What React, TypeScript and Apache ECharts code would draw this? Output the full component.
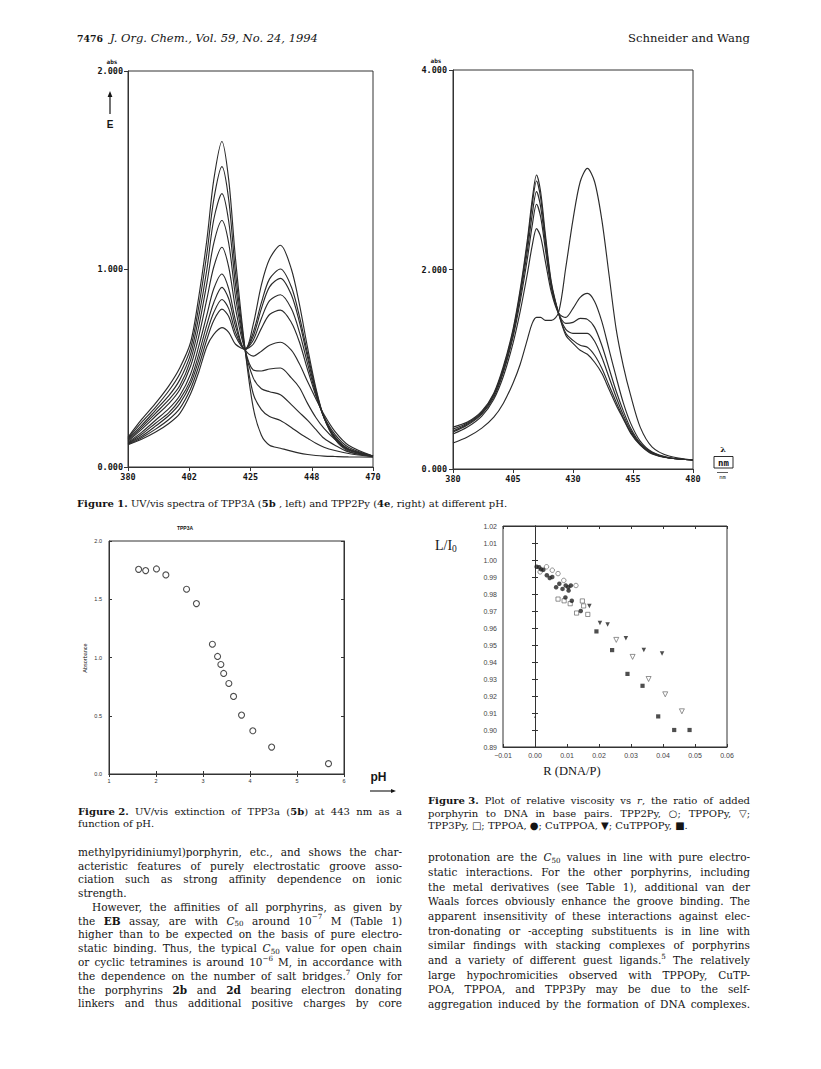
import React, { useEffect, useRef } from "react";
import * as echarts from "echarts";

// ---------------- Figure 1 (left): TPP3A spectra ----------------
const tpp3aNm = [380, 385, 390, 395, 399, 403, 406, 409, 411.5, 414.5, 417, 419.5, 423, 426, 429, 432, 436, 440, 443, 446, 449, 452, 456, 461, 470];
const tpp3aA1 = [0.15, 0.24, 0.32, 0.41, 0.5, 0.63, 0.86, 1.15, 1.45, 1.644, 1.45, 1.05, 0.594, 0.3, 0.16, 0.11, 0.095, 0.08, 0.07, 0.063, 0.058, 0.055, 0.053, 0.051, 0.05];
const tpp3aA2 = [0.145, 0.225, 0.3, 0.385, 0.47, 0.6, 0.81, 1.08, 1.35, 1.517, 1.35, 0.98, 0.594, 0.37, 0.29, 0.255, 0.235, 0.2, 0.17, 0.145, 0.12, 0.1, 0.083, 0.068, 0.052];
const tpp3aA3 = [0.14, 0.21, 0.285, 0.36, 0.44, 0.57, 0.76, 1.0, 1.25, 1.381, 1.24, 0.92, 0.594, 0.45, 0.395, 0.38, 0.365, 0.315, 0.275, 0.235, 0.19, 0.145, 0.11, 0.076, 0.053];
const tpp3aA4 = [0.135, 0.2, 0.27, 0.34, 0.41, 0.54, 0.71, 0.93, 1.13, 1.245, 1.13, 0.86, 0.594, 0.49, 0.485, 0.495, 0.5, 0.45, 0.4, 0.32, 0.25, 0.195, 0.14, 0.09, 0.054];
const tpp3aA5 = [0.13, 0.19, 0.255, 0.32, 0.39, 0.51, 0.66, 0.85, 1.01, 1.11, 1.01, 0.8, 0.594, 0.56, 0.585, 0.615, 0.63, 0.59, 0.52, 0.43, 0.345, 0.265, 0.18, 0.11, 0.055];
const tpp3aA6 = [0.125, 0.175, 0.235, 0.295, 0.36, 0.47, 0.61, 0.77, 0.9, 0.975, 0.9, 0.74, 0.594, 0.62, 0.7, 0.77, 0.792, 0.73, 0.63, 0.49, 0.36, 0.255, 0.165, 0.1, 0.055];
const tpp3aA7 = [0.12, 0.165, 0.22, 0.275, 0.34, 0.44, 0.57, 0.72, 0.83, 0.907, 0.85, 0.71, 0.594, 0.64, 0.75, 0.84, 0.87, 0.8, 0.68, 0.52, 0.37, 0.25, 0.155, 0.092, 0.055];
const tpp3aA8 = [0.118, 0.155, 0.205, 0.26, 0.32, 0.42, 0.54, 0.68, 0.78, 0.846, 0.8, 0.68, 0.594, 0.66, 0.8, 0.91, 0.953, 0.87, 0.73, 0.55, 0.38, 0.25, 0.15, 0.088, 0.055];
const tpp3aA9 = [0.115, 0.148, 0.19, 0.24, 0.295, 0.395, 0.51, 0.645, 0.74, 0.797, 0.76, 0.66, 0.594, 0.68, 0.83, 0.95, 1.0, 0.91, 0.76, 0.57, 0.39, 0.25, 0.145, 0.085, 0.055];
const tpp3aA10 = [0.112, 0.14, 0.175, 0.22, 0.27, 0.37, 0.48, 0.61, 0.67, 0.704, 0.68, 0.62, 0.594, 0.72, 0.92, 1.05, 1.12, 1.0, 0.82, 0.6, 0.4, 0.25, 0.14, 0.08, 0.055];
const tpp3aCurves = [tpp3aA1, tpp3aA2, tpp3aA3, tpp3aA4, tpp3aA5, tpp3aA6, tpp3aA7, tpp3aA8, tpp3aA9, tpp3aA10];
const fig1LeftTicks = [380, 402.5, 425, 447.5, 470];
const fig1LeftTickLabels = ["380", "402", "425", "448", "470"];

// ---------------- Figure 1 (right): TPP2Py spectra ----------------
const tpp2pyNm = [380, 386, 392, 397, 401, 405, 408, 411, 413, 414.8, 416.5, 418.5, 421, 424, 427, 430, 433, 436, 439, 442, 445, 448, 451, 454, 458, 463, 470, 480];
const tpp2pyA1 = [0.42, 0.47, 0.58, 0.76, 1.03, 1.4, 1.8, 2.3, 2.7, 2.947, 2.78, 2.35, 1.87, 1.56, 1.34, 1.26, 1.19, 1.15, 1.07, 0.96, 0.8, 0.64, 0.5, 0.36, 0.24, 0.15, 0.11, 0.09];
const tpp2pyA2 = [0.4, 0.46, 0.57, 0.75, 1.01, 1.38, 1.77, 2.26, 2.65, 2.887, 2.72, 2.31, 1.85, 1.56, 1.36, 1.29, 1.24, 1.22, 1.14, 1.01, 0.84, 0.67, 0.51, 0.37, 0.245, 0.155, 0.11, 0.09];
const tpp2pyA3 = [0.38, 0.45, 0.56, 0.74, 0.99, 1.35, 1.73, 2.19, 2.55, 2.78, 2.63, 2.26, 1.83, 1.56, 1.4, 1.36, 1.36, 1.36, 1.28, 1.12, 0.92, 0.72, 0.54, 0.39, 0.25, 0.16, 0.11, 0.09];
const tpp2pyA4 = [0.37, 0.44, 0.55, 0.72, 0.97, 1.32, 1.68, 2.11, 2.44, 2.654, 2.53, 2.2, 1.81, 1.56, 1.46, 1.47, 1.51, 1.5, 1.42, 1.24, 1.01, 0.78, 0.58, 0.41, 0.26, 0.165, 0.11, 0.09];
const tpp2pyA5 = [0.35, 0.42, 0.53, 0.7, 0.93, 1.26, 1.58, 1.96, 2.24, 2.41, 2.33, 2.08, 1.77, 1.56, 1.52, 1.61, 1.72, 1.76, 1.68, 1.48, 1.2, 0.92, 0.66, 0.46, 0.28, 0.17, 0.115, 0.09];
const tpp2pyA6 = [0.26, 0.32, 0.41, 0.52, 0.66, 0.86, 1.05, 1.3, 1.46, 1.52, 1.52, 1.49, 1.49, 1.57, 2.02, 2.5, 2.88, 3.014, 2.88, 2.5, 1.95, 1.4, 1.03, 0.74, 0.42, 0.22, 0.13, 0.09];
const tpp2pyCurves = [tpp2pyA1, tpp2pyA2, tpp2pyA3, tpp2pyA4, tpp2pyA5, tpp2pyA6];
const fig1RightTicks = [380, 405, 430, 455, 480];

// ---------------- Figure 2: extinction at 443 nm vs pH ----------------
const fig2Ph = [1.63, 1.78, 2.01, 2.21, 2.65, 2.86, 3.2, 3.31, 3.38, 3.44, 3.55, 3.65, 3.82, 4.06, 4.46, 5.67];
const fig2Abs = [1.757, 1.746, 1.76, 1.709, 1.586, 1.463, 1.114, 1.009, 0.94, 0.863, 0.777, 0.666, 0.506, 0.371, 0.231, 0.089];

// ---------------- Figure 3: relative viscosity vs r ----------------
const tpp2pyR = [0.0016, 0.0036, 0.0054, 0.0072, 0.009, 0.0128];
const tpp2pyL = [0.993, 0.996, 0.994, 0.992, 0.988, 0.985];
const tppopyR = [0.0254, 0.0305, 0.0355, 0.0407, 0.0459];
const tppopyL = [0.953, 0.943, 0.93, 0.921, 0.911];
const tpp3pyR = [0.0072, 0.0091, 0.011, 0.013, 0.0148, 0.0152, 0.0165];
const tpp3pyL = [0.977, 0.976, 0.9743, 0.9688, 0.9759, 0.973, 0.968];
const tppoaR = [0.0005, 0.0013, 0.0019, 0.0026, 0.0037, 0.0046, 0.0054, 0.0066, 0.0076, 0.0086, 0.0096, 0.0104, 0.0105, 0.0112, 0.0095, 0.0115, 0.0143];
const tppoaL = [0.996, 0.9957, 0.9945, 0.9943, 0.991, 0.9894, 0.99, 0.984, 0.986, 0.983, 0.985, 0.984, 0.982, 0.985, 0.978, 0.976, 0.97];
const cutppoaR = [0.017, 0.0203, 0.0227, 0.0284, 0.034, 0.0397];
const cutppoaL = [0.973, 0.963, 0.962, 0.954, 0.947, 0.945];
const cutppopyR = [0.0192, 0.0241, 0.0289, 0.0336, 0.0385, 0.0435, 0.0483];
const cutppopyL = [0.958, 0.947, 0.933, 0.926, 0.908, 0.9, 0.9];
const strayR = [0.0];
const strayL = [0.9076];

// ---------------- Page text ----------------
const fig1Caption = "{b|Figure~1.} UV/vis spectra of TPP3A ({b|5b} , left) and TPP2Py ({b|4e}, right) at different pH.";
const fig2Caption = ["{b|Figure~2.} UV/vis extinction of TPP3a ({b|5b}) at 443 nm as a", "function of pH."];
const fig3Caption = [
  "{b|Figure~3.} Plot of relative viscosity vs {i|r}, the ratio of added",
  "porphyrin to DNA in base pairs. TPP2Py, ○; TPPOPy, ▽;",
  "TPP3Py, □; TPPOA, ●; CuTPPOA, ▼; CuTPPOPy, ■.",
];
const leftColumn = [
  "methylpyridiniumyl)porphyrin, etc., and shows the char-",
  "acteristic features of purely electrostatic groove asso-",
  "ciation such as strong affinity dependence on ionic",
  "strength.",
  "However, the affinities of all porphyrins, as given by",
  "the {b|EB} assay, are with {i|C}{sub|50} around 10{sup|−7} M (Table 1)",
  "higher than to be expected on the basis of pure electro-",
  "static binding. Thus, the typical {i|C}{sub|50} value for open chain",
  "or cyclic tetramines is around 10{sup|−6} M, in accordance with",
  "the dependence on the number of salt bridges.{sup|7} Only for",
  "the porphyrins {b|2b} and {b|2d} bearing electron donating",
  "linkers and thus additional positive charges by core",
];
const leftColumnY = [851.7, 865.5, 879.3, 893, 906.8, 920.6, 934.4, 948.2, 962, 975.8, 989.6, 1003.4];
const rightColumn = [
  "protonation are the {i|C}{sub|50} values in line with pure electro-",
  "static interactions. For the other porphyrins, including",
  "the metal derivatives (see Table 1), additional van der",
  "Waals forces obviously enhance the groove binding. The",
  "apparent insensitivity of these interactions against elec-",
  "tron-donating or -accepting substituents is in line with",
  "similar findings with stacking complexes of porphyrins",
  "and a variety of different guest ligands.{sup|5} The relatively",
  "large hypochromicities observed with TPPOPy, CuTP-",
  "POA, TPPOA, and TPP3Py may be due to the self-",
  "aggregation induced by the formation of DNA complexes.",
];
const rightColumnY = [857.3, 872, 886.6, 901.3, 916, 930.6, 945.3, 960, 974.6, 989.3, 1004];

const SERIF = "DejaVu Serif";
const MONO = "DejaVu Sans Mono";
const SANS = "Liberation Sans";
const INK = "#151515";
const LINE = "#2b2b2b";

type Seg = { k: string; t: string };
function parseMarkup(markup: string): Seg[] {
  const re = /\{(\w+)\|([^}]*)\}|([^{]+)/g;
  const out: Seg[] = [];
  let m: RegExpExecArray | null;
  while ((m = re.exec(markup))) {
    if (m[1]) out.push({ k: m[1], t: m[2].replace(/~/g, " ") });
    else out.push({ k: "n", t: m[3].replace(/~/g, " ") });
  }
  return out;
}

function makeTools() {
  const ctx = document.createElement("canvas").getContext("2d") as CanvasRenderingContext2D;
  const st = (k: string, size: number) => {
    switch (k) {
      case "b": return { fontSize: size, fontWeight: "bold", fontStyle: "normal", dy: 0 };
      case "i": return { fontSize: size, fontWeight: "normal", fontStyle: "italic", dy: 0 };
      case "sub": return { fontSize: size * 0.68, fontWeight: "normal", fontStyle: "normal", dy: size * 0.3 };
      case "sup": return { fontSize: size * 0.68, fontWeight: "normal", fontStyle: "normal", dy: -size * 0.36 };
      default: return { fontSize: size, fontWeight: "normal", fontStyle: "normal", dy: 0 };
    }
  };
  const segWidth = (s: Seg, size: number, family: string) => {
    const f = st(s.k, size);
    ctx.font = `${f.fontStyle} ${f.fontWeight} ${f.fontSize}px "${family}"`;
    return ctx.measureText(s.t).width;
  };
  const measure = (markup: string, size: number, family: string) =>
    parseMarkup(markup).reduce((a, s) => a + segWidth(s, size, family), 0);
  const run = (markup: string, x: number, y: number, size: number, family: string, out: any[], color = INK) => {
    let cx = x;
    for (const s of parseMarkup(markup)) {
      const f = st(s.k, size);
      out.push({
        type: "text", x: cx, y: y + f.dy, silent: true,
        style: {
          text: s.t, fontSize: f.fontSize, fontFamily: family, fontWeight: f.fontWeight, fontStyle: f.fontStyle,
          fill: color, align: "left", verticalAlign: "middle", textAlign: "left", textVerticalAlign: "middle",
        },
      });
      cx += segWidth(s, size, family);
    }
    return cx - x;
  };
  const line = (markup: string, x0: number, width: number, y: number, size: number, family: string, justify: boolean, out: any[]) => {
    const words = markup.split(/ +/).filter((w) => w.length);
    const widths = words.map((w) => measure(w, size, family));
    const sum = widths.reduce((a, b) => a + b, 0);
    const space = measure(" ", size, family);
    const gap = justify && words.length > 1 ? (width - sum) / (words.length - 1) : space;
    let cx = x0;
    words.forEach((w, i) => {
      run(w, cx, y, size, family, out);
      cx += widths[i] + gap;
    });
  };
  const fitSize = (lines: string[], width: number, family: string, base: number, minGap: number) => {
    let best = base;
    for (const l of lines) {
      const words = l.split(/ +/).filter((w) => w.length);
      const nat = words.reduce((a, w) => a + measure(w, 10, family), 0);
      const s = (10 * (width - (words.length - 1) * minGap)) / nat;
      if (s < best) best = s;
    }
    return best;
  };
  return { run, line, measure, fitSize };
}

function centered(text: string, x: number, y: number, fontSize: number, fontFamily: string, fontWeight = "normal", extra: any = {}) {
  return {
    type: "text", x, y, silent: true, ...extra,
    style: { text, fontSize, fontFamily, fontWeight, fill: INK, align: "center", verticalAlign: "middle", textAlign: "center", textVerticalAlign: "middle" },
  };
}

function buildGraphics() {
  const T = makeTools();
  const els: any[] = [];
  // header
  const hdrSize = 10 * 26 / T.measure("{b|7476}", 10, SERIF);
  T.run("{b|7476}", 77, 38, Math.min(hdrSize, 12), SERIF, els);
  const itSize = 10 * 208 / T.measure("{i|J. Org. Chem., Vol. 59, No. 24, 1994}", 10, SERIF);
  T.run("{i|J. Org. Chem., Vol. 59, No. 24, 1994}", 110, 38, itSize, SERIF, els);
  const swSize = 10 * 122 / T.measure("Schneider and Wang", 10, SERIF);
  T.run("Schneider and Wang", 750 - 122, 38, swSize, SERIF, els);

  // captions
  const capSize = Math.min(10, 10 * 478 / T.measure(fig1Caption, 10, SERIF));
  T.line(fig1Caption, 77, 478, 503, capSize, SERIF, false, els);
  T.line(fig2Caption[0], 78, 324, 811.5, capSize, SERIF, true, els);
  T.line(fig2Caption[1], 78, 324, 823.5, capSize, SERIF, false, els);
  T.line(fig3Caption[0], 428, 322, 800.7, capSize, SERIF, true, els);
  T.line(fig3Caption[1], 428, 322, 813, capSize, SERIF, true, els);
  T.line(fig3Caption[2], 428, 322, 825.3, capSize, SERIF, false, els);

  // body columns
  const justL = leftColumn.filter((_, i) => i !== 3);
  const bodySize = Math.min(10.5, T.fitSize(justL.concat(rightColumn), 322, SERIF, 10.5, 1.6));
  leftColumn.forEach((l, i) => {
    const indent = i === 4 ? 14 : 0;
    T.line(l, 78 + indent, 324 - indent, leftColumnY[i], bodySize, SERIF, i !== 3, els);
  });
  rightColumn.forEach((l, i) => {
    T.line(l, 428, 322, rightColumnY[i], bodySize, SERIF, true, els);
  });

  // Figure 1 left annotations
  els.push(centered("abs", 112, 61.5, 6, MONO, "bold"));
  els.push({ type: "line", silent: true, shape: { x1: 110, y1: 114, x2: 110, y2: 96 }, style: { stroke: INK, lineWidth: 1.2 } });
  els.push({ type: "polygon", silent: true, shape: { points: [[107.6, 97], [112.4, 97], [110, 91]] }, style: { fill: INK } });
  els.push(centered("E", 110, 124, 10, SANS, "bold"));

  // Figure 1 right annotations
  els.push(centered("abs", 436, 60.5, 6, MONO, "bold"));
  els.push(centered("λ", 723, 449, 8, SERIF, "bold"));
  els.push({ type: "rect", silent: true, shape: { x: 714, y: 456.5, width: 19, height: 11.5 }, style: { fill: "none", stroke: INK, lineWidth: 0.9 } });
  els.push(centered("nm", 723.5, 462.5, 9, MONO, "bold"));
  els.push({ type: "line", silent: true, shape: { x1: 717, y1: 472.5, x2: 728, y2: 472.5 }, style: { stroke: INK, lineWidth: 0.7 } });
  els.push(centered("nm", 722.5, 476.5, 5.5, MONO));

  // Figure 2 annotations
  els.push(centered("TPP3A", 185, 528, 5, SANS, "bold"));
  els.push(centered("Absorbance", 85, 658, 5.5, SANS, "normal", { rotation: Math.PI / 2 }));
  els.push(centered("pH", 378.5, 777, 12, SANS, "bold"));
  els.push({ type: "line", silent: true, shape: { x1: 370, y1: 791, x2: 392, y2: 791 }, style: { stroke: INK, lineWidth: 1.1 } });
  els.push({ type: "polygon", silent: true, shape: { points: [[391, 789], [391, 793], [396, 791]] }, style: { fill: INK } });

  // Figure 3 annotations
  T.run("L/I{sub|0}", 435, 545, 14, "Liberation Serif", els);
  els.push(centered("R (DNA/P)", 572, 771, 12.5, "Liberation Serif"));
  return els;
}

function buildOption() {
  const axisLine = { show: true, lineStyle: { color: "#333", width: 1 } };
  const monoLabel = { fontFamily: MONO, fontSize: 8.5, color: INK, fontWeight: "bold" as const };
  const smallLabel = { fontFamily: SANS, fontSize: 5.5, color: "#333" };
  const f3Label = { fontFamily: SANS, fontSize: 7, color: "#444" };
  const fmt3 = (v: number) => (Math.abs(v) < 1e-9 ? "0.00" : v < 0 ? "−" + Math.abs(v).toFixed(2) : v.toFixed(2));

  const series: any[] = [];
  tpp3aCurves.forEach((c) =>
    series.push({
      type: "line", xAxisIndex: 0, yAxisIndex: 0, symbol: "none", smooth: 0.3, silent: true,
      data: tpp3aNm.map((x, i) => [x, c[i]]), lineStyle: { color: LINE, width: 1.15 },
    })
  );
  tpp2pyCurves.forEach((c) =>
    series.push({
      type: "line", xAxisIndex: 1, yAxisIndex: 1, symbol: "none", smooth: 0.3, silent: true,
      data: tpp2pyNm.map((x, i) => [x, c[i]]), lineStyle: { color: LINE, width: 1.15 },
    })
  );
  series.push({
    type: "scatter", xAxisIndex: 2, yAxisIndex: 2, symbol: "circle", symbolSize: 6, silent: true,
    data: fig2Ph.map((x, i) => [x, fig2Abs[i]]),
    itemStyle: { color: "#fff", borderColor: "#222", borderWidth: 1.1 },
  });
  const f3 = (xs: number[], ys: number[], symbol: string, size: number, filled: boolean, rotate = 0) => ({
    type: "scatter", xAxisIndex: 4, yAxisIndex: 4, symbol, symbolSize: size, symbolRotate: rotate, silent: true,
    data: xs.map((x, i) => [x, ys[i]]),
    itemStyle: filled ? { color: "#222" } : { color: "#fff", borderColor: "#555", borderWidth: 0.8 },
  });
  series.push(f3(tpp2pyR, tpp2pyL, "circle", 4.5, false));
  series.push(f3(tppopyR, tppopyL, "triangle", 5, false, 180));
  series.push(f3(tpp3pyR, tpp3pyL, "rect", 4.2, false));
  series.push(f3(tppoaR, tppoaL, "circle", 4.5, true));
  series.push(f3(cutppoaR, cutppoaL, "triangle", 4.5, true, 180));
  series.push(f3(cutppopyR, cutppopyL, "rect", 4.2, true));
  series.push(f3(strayR, strayL, "circle", 1.6, true));

  const gridStyle = { show: true, borderColor: "#333", borderWidth: 1, backgroundColor: "transparent" };
  return {
    animation: false,
    backgroundColor: "#ffffff",
    grid: [
      { left: 128, top: 71, width: 245, height: 396, ...gridStyle },
      { left: 453, top: 70, width: 240, height: 399, ...gridStyle },
      { left: 109, top: 541, width: 235, height: 233, ...gridStyle },
      { left: 503, top: 526, width: 224, height: 221, ...gridStyle },
    ],
    xAxis: [
      {
        gridIndex: 0, type: "value", min: 380, max: 470, axisLine, splitLine: { show: false },
        axisTick: { show: true, customValues: fig1LeftTicks, length: 4, lineStyle: { color: "#333" } },
        axisLabel: { ...monoLabel, customValues: fig1LeftTicks, margin: 5, formatter: (v: number) => fig1LeftTickLabels[fig1LeftTicks.indexOf(v)] ?? "" },
      },
      {
        gridIndex: 1, type: "value", min: 380, max: 480, axisLine, splitLine: { show: false },
        axisTick: { show: true, customValues: fig1RightTicks, length: 4, lineStyle: { color: "#333" } },
        axisLabel: { ...monoLabel, customValues: fig1RightTicks, margin: 5, formatter: (v: number) => String(Math.round(v)) },
      },
      {
        gridIndex: 2, type: "value", min: 1, max: 6, interval: 1, axisLine, splitLine: { show: false },
        axisTick: { show: true, inside: true, length: 3, lineStyle: { color: "#333" } },
        axisLabel: { ...smallLabel, margin: 4, formatter: (v: number) => String(v) },
      },
      {
        gridIndex: 2, type: "value", position: "top", min: 1, max: 6, interval: 1, axisLine, splitLine: { show: false },
        axisTick: { show: true, inside: true, length: 3, lineStyle: { color: "#333" } }, axisLabel: { show: false },
      },
      {
        gridIndex: 3, type: "value", min: -0.01, max: 0.06, interval: 0.01, axisLine, splitLine: { show: false },
        axisTick: { show: true, inside: true, length: 3, lineStyle: { color: "#333" } },
        axisLabel: { ...f3Label, margin: 5, formatter: fmt3 },
      },
      {
        gridIndex: 3, type: "value", position: "top", min: -0.01, max: 0.06, interval: 0.01, axisLine, splitLine: { show: false },
        axisTick: { show: true, inside: true, length: 3, lineStyle: { color: "#333" } }, axisLabel: { show: false },
      },
    ],
    yAxis: [
      {
        gridIndex: 0, type: "value", min: 0, max: 2, interval: 1, axisLine, splitLine: { show: false },
        axisTick: { show: true, length: 4, lineStyle: { color: "#333" } },
        axisLabel: { ...monoLabel, margin: 5, formatter: (v: number) => v.toFixed(3) },
      },
      {
        gridIndex: 1, type: "value", min: 0, max: 4, interval: 2, axisLine, splitLine: { show: false },
        axisTick: { show: true, length: 4, lineStyle: { color: "#333" } },
        axisLabel: { ...monoLabel, margin: 6, formatter: (v: number) => v.toFixed(3) },
      },
      {
        gridIndex: 2, type: "value", min: 0, max: 2, interval: 0.5, axisLine, splitLine: { show: false },
        axisTick: { show: true, inside: true, length: 3, lineStyle: { color: "#333" } },
        axisLabel: { ...smallLabel, margin: 7, formatter: (v: number) => v.toFixed(1) },
      },
      {
        gridIndex: 2, type: "value", position: "right", min: 0, max: 2, interval: 0.5, axisLine, splitLine: { show: false },
        axisTick: { show: true, inside: true, length: 3, lineStyle: { color: "#333" } }, axisLabel: { show: false },
      },
      {
        gridIndex: 3, type: "value", min: 0.89, max: 1.02, interval: 0.01, axisLine, splitLine: { show: false },
        axisTick: { show: true, inside: true, length: 3, lineStyle: { color: "#333" } },
        axisLabel: { ...f3Label, margin: 6, formatter: (v: number) => v.toFixed(2) },
      },
      {
        gridIndex: 3, type: "value", position: "right", min: 0.89, max: 1.02, interval: 0.01, axisLine, splitLine: { show: false },
        axisTick: { show: true, inside: true, length: 3, lineStyle: { color: "#333" } }, axisLabel: { show: false },
      },
    ],
    series,
    graphic: { elements: buildGraphics() },
  };
}

export default function App() {
  const ref = useRef<HTMLDivElement>(null);
  useEffect(() => {
    if (!ref.current) return;
    const chart = echarts.init(ref.current, null, { renderer: "svg", width: 821, height: 1069 });
    chart.setOption(buildOption() as any);
    return () => chart.dispose();
  }, []);
  return (
    <div
      ref={ref}
      style={{ position: "absolute", left: 0, top: 0, width: 821, height: 1069, background: "#fff" }}
    />
  );
}
